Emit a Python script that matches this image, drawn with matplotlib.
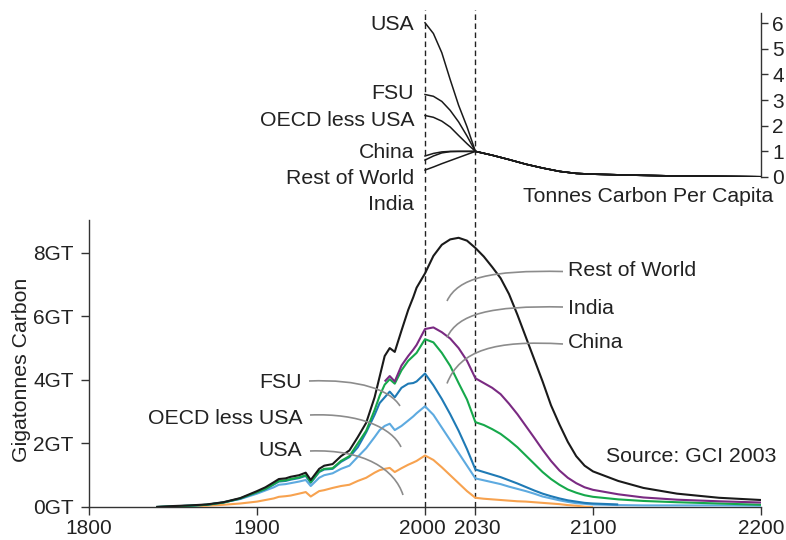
import numpy as np
import matplotlib
matplotlib.use("Agg")
import matplotlib.pyplot as plt
import matplotlib.transforms as mtransforms
from matplotlib.path import Path
from matplotlib.patches import PathPatch

plt.rcParams['font.family'] = ['Liberation Sans', 'DejaVu Sans']

# ---------------- data ----------------
years = [1840, 1850, 1860, 1870, 1880, 1890, 1900, 1905, 1910, 1913, 1917, 1920, 1925, 1929,
         1932, 1937, 1940, 1945, 1950, 1955, 1960, 1965, 1970, 1973, 1976, 1979, 1982, 1986,
         1990, 1993, 1995, 2000, 2005, 2010, 2015, 2020, 2025, 2030, 2035, 2040, 2045, 2050,
         2055, 2060, 2065, 2070, 2075, 2080, 2085, 2090, 2095, 2100, 2115, 2130, 2150, 2175, 2200]

nan = np.nan
# cumulative emissions (GT carbon), stacked from USA upward
usa = [0.0, 0.01, 0.02, 0.04, 0.07, 0.11, 0.17, 0.22, 0.27, 0.32, 0.34, 0.36, 0.42, 0.47,
       0.33, 0.50, 0.53, 0.60, 0.66, 0.70, 0.82, 0.92, 1.08, 1.16, 1.20, 1.23, 1.10, 1.22,
       1.33, 1.40, 1.45, 1.62, 1.48, 1.25, 1.00, 0.75, 0.50, 0.29, 0.26, 0.24, 0.22, 0.20,
       0.18, 0.17, 0.15, 0.13, 0.11, 0.09, 0.06, 0.04, 0.01, 0.0, nan, nan, nan, nan, nan]
oecd_less_usa = [0.0, 0.02, 0.04, 0.07, 0.15, 0.25, 0.42, 0.52, 0.62, 0.70, 0.72, 0.75, 0.80, 0.85,
                 0.66, 0.92, 1.00, 1.06, 1.20, 1.30, 1.58, 1.85, 2.20, 2.42, 2.55, 2.62, 2.42, 2.55,
                 2.72, 2.85, 2.95, 3.17, 2.90, 2.50, 2.10, 1.70, 1.30, 0.90, 0.84, 0.78, 0.72, 0.64,
                 0.57, 0.50, 0.42, 0.33, 0.27, 0.21, 0.16, 0.12, 0.10, 0.08, 0.06, 0.05, 0.05, 0.05, 0.04]
fsu = [0.0, 0.02, 0.04, 0.07, 0.14, 0.26, 0.46, 0.56, 0.71, 0.80, 0.82, 0.86, 0.91, 0.98,
       0.76, 1.10, 1.18, 1.20, 1.42, 1.57, 1.88, 2.35, 2.90, 3.27, 3.45, 3.63, 3.45, 3.75,
       3.88, 3.90, 3.95, 4.20, 3.83, 3.40, 2.92, 2.40, 1.82, 1.18, 1.10, 1.02, 0.94, 0.84,
       0.74, 0.63, 0.52, 0.42, 0.34, 0.27, 0.21, 0.17, 0.13, 0.11, 0.08, nan, nan, nan, nan]
china = [0.0, 0.02, 0.04, 0.07, 0.14, 0.27, 0.47, 0.57, 0.72, 0.82, 0.84, 0.88, 0.93, 1.00,
         0.78, 1.12, 1.20, 1.22, 1.45, 1.60, 2.00, 2.40, 3.05, 3.50, 3.85, 4.02, 3.88, 4.30,
         4.60, 4.75, 4.85, 5.28, 5.18, 4.85, 4.44, 3.90, 3.38, 2.67, 2.58, 2.45, 2.30, 2.10,
         1.88, 1.62, 1.36, 1.10, 0.88, 0.70, 0.55, 0.45, 0.37, 0.32, 0.24, 0.19, 0.15, 0.11, 0.07]
india = [nan, nan, nan, nan, nan, nan, nan, nan, nan, nan, nan, nan, nan, nan,
         nan, nan, nan, nan, nan, nan, nan, nan, nan, nan, 3.95, 4.12, 3.95, 4.45,
         4.75, 4.95, 5.10, 5.60, 5.65, 5.50, 5.30, 5.00, 4.60, 4.05, 3.90, 3.75, 3.55, 3.25,
         2.92, 2.55, 2.18, 1.80, 1.45, 1.15, 0.92, 0.75, 0.62, 0.54, 0.40, 0.30, 0.23, 0.18, 0.14]
rest_of_world = [0.0, 0.03, 0.05, 0.08, 0.15, 0.28, 0.50, 0.62, 0.78, 0.88, 0.90, 0.95, 1.00, 1.08,
                 0.85, 1.20, 1.30, 1.35, 1.60, 1.78, 2.20, 2.65, 3.45, 4.10, 4.75, 5.00, 4.88, 5.55,
                 6.20, 6.60, 6.90, 7.35, 7.90, 8.25, 8.42, 8.47, 8.38, 8.15, 7.88, 7.55, 7.20, 6.70,
                 6.05, 5.35, 4.65, 3.95, 3.20, 2.60, 2.05, 1.60, 1.30, 1.12, 0.82, 0.60, 0.42, 0.29, 0.22]

# per-capita emissions (tonnes carbon per person)
pc_years = [2000, 2005, 2010, 2015, 2020, 2025, 2030, 2040, 2050, 2060, 2070, 2080, 2090,
            2100, 2125, 2150, 2200]
pc_tail = [0.85, 0.68, 0.50, 0.35, 0.22, 0.14, 0.11, 0.07, 0.04, 0.01]
pc_usa = [6.02, 5.60, 4.85, 3.80, 2.80, 1.96, 1.0]
pc_fsu = [3.22, 3.15, 2.95, 2.60, 2.15, 1.60, 1.0]
pc_oecd = [2.40, 2.33, 2.18, 1.95, 1.62, 1.30, 1.0]
pc_china = [0.82, 0.92, 0.98, 1.0, 1.0, 1.0, 1.0]
pc_row = [0.66, 0.82, 0.94, 0.99, 1.0, 1.0, 1.0]
pc_india = [0.27, 0.39, 0.52, 0.64, 0.76, 0.88, 1.0]

x_ticks = [1800, 1900, 2000, 2030, 2100, 2200]
y_ticks = [0, 2, 4, 6, 8]
y_tick_labels = ["0GT", "2GT", "4GT", "6GT", "8GT"]
pc_ticks = [0, 1, 2, 3, 4, 5, 6]

# ---------------- figure ----------------
W, H = 786, 540
fig = plt.figure(figsize=(W / 100, H / 100), dpi=100)
TXT = '#222222'
FS = 15.3
TFS = 15


def fx(x):
    return x / W


def fy(y):
    return 1 - y / H


# bottom axes: pixel box x 89..761, y 220..507
ax = fig.add_axes([fx(89), fy(507), fx(761) - fx(89), fy(220) - fy(507)])
# top axes: x 89..761, y 13..177
axt = fig.add_axes([fx(89), fy(177), fx(761) - fx(89), fy(13) - fy(177)])

colors = {
    'usa': '#F7A24F',
    'oecd': '#5DAAE0',
    'fsu': '#1F7AB5',
    'china': '#16A84B',
    'india': '#7A2A82',
    'row': '#1A1A1A',
}
yrs = np.array(years, dtype=float)
for vals, key in [(usa, 'usa'), (oecd_less_usa, 'oecd'), (fsu, 'fsu'), (china, 'china'),
                  (india, 'india'), (rest_of_world, 'row')]:
    ax.plot(yrs, np.array(vals, dtype=float), color=colors[key], lw=1.5,
            solid_joinstyle='round', solid_capstyle='butt', zorder=3)

ax.set_xlim(1800, 2200)
ax.set_ylim(0, 9.03)
ax.set_xticks(x_ticks)
ax.set_xticklabels([str(t) for t in x_ticks])
ax.set_yticks(y_ticks)
ax.set_yticklabels(y_tick_labels)
for s in ['top', 'right']:
    ax.spines[s].set_visible(False)
for s in ['left', 'bottom']:
    ax.spines[s].set_color('#333333')
    ax.spines[s].set_linewidth(1.0)
ax.tick_params(axis='both', direction='out', length=6, width=1.0, color='#333333',
               labelsize=TFS, labelcolor=TXT)
ax.tick_params(axis='x', pad=2.5)
ax.tick_params(axis='y', pad=5)
ax.patch.set_alpha(0)

# nudge the crowded 2000 / 2030 labels apart slightly, as in the original
xlabels = ax.get_xticklabels()
for lab, dx in [(xlabels[2], -3), (xlabels[3], 1.5)]:
    lab.set_transform(lab.get_transform() +
                      mtransforms.ScaledTranslation(dx / 100, 0, fig.dpi_scale_trans))

# dashed vertical guides at 2000 and 2030 spanning both panels
top_frac = (507 - 10) / (507 - 220)
for yr in [2000, 2030]:
    ax.plot([yr, yr], [0, top_frac], transform=ax.get_xaxis_transform(), clip_on=False,
            color='#222222', lw=1.0, ls=(0, (4, 2.5)), zorder=2)

# per-capita panel
pcy = np.array(pc_years, dtype=float)
for vals in [pc_usa, pc_fsu, pc_oecd, pc_china, pc_row, pc_india]:
    axt.plot(pcy, np.array(vals + pc_tail, dtype=float), color='#1A1A1A', lw=1.1, zorder=3)
axt.set_xlim(1800, 2200)
axt.set_ylim(0, 6.4)
axt.patch.set_alpha(0)
for s in ['top', 'left', 'bottom']:
    axt.spines[s].set_visible(False)
axt.spines['right'].set_color('#333333')
axt.spines['right'].set_linewidth(1.0)
axt.set_xticks([])
axt.yaxis.tick_right()
axt.set_yticks(pc_ticks)
axt.set_yticklabels([str(t) for t in pc_ticks])
axt.tick_params(axis='y', direction='out', length=5, width=1.0, color='#333333',
                labelsize=TFS, labelcolor=TXT, pad=3)

# ---------------- text ----------------
fig.text(fx(22), fy(370), "Gigatonnes Carbon", rotation=90, ha='center', va='center',
         fontsize=FS, color=TXT)

for label, y in [("USA", 24), ("FSU", 93), ("OECD less USA", 121), ("China", 152),
                 ("Rest of World", 179), ("India", 205)]:
    fig.text(fx(414), fy(y), label, ha='right', va='center', fontsize=FS, color=TXT)

fig.text(fx(523), fy(197), "Tonnes Carbon Per Capita", ha='left', va='center',
         fontsize=FS, color=TXT)

for label, y in [("Rest of World", 271), ("India", 309), ("China", 343)]:
    fig.text(fx(568), fy(y), label, ha='left', va='center', fontsize=FS, color=TXT)

for label, y in [("FSU", 382), ("OECD less USA", 419), ("USA", 451)]:
    fig.text(fx(302), fy(y), label, ha='right', va='center', fontsize=FS, color=TXT)

fig.text(fx(606), fy(457), "Source: GCI 2003", ha='left', va='center', fontsize=FS, color=TXT)

# curved leader lines (pixel coordinates -> figure fraction)
leaders = [
    [(563, 271.5), (490, 270), (458, 278), (447, 301)],
    [(563, 307), (490, 305.5), (458, 314), (447, 337.5)],
    [(563, 344), (495, 340), (460, 350), (447, 383.5)],
    [(309, 381), (360, 379), (390, 390), (400, 406)],
    [(310, 415), (360, 413), (392, 428), (401, 447)],
    [(310, 451), (365, 449), (395, 470), (403, 495)],
]
for pts in leaders:
    verts = [(fx(x), fy(y)) for x, y in pts]
    path = Path(verts, [Path.MOVETO, Path.CURVE4, Path.CURVE4, Path.CURVE4])
    fig.add_artist(PathPatch(path, transform=fig.transFigure, fill=False,
                             edgecolor='#8C8C8C', lw=1.2, zorder=5))

fig.savefig("out.png", dpi=100)
